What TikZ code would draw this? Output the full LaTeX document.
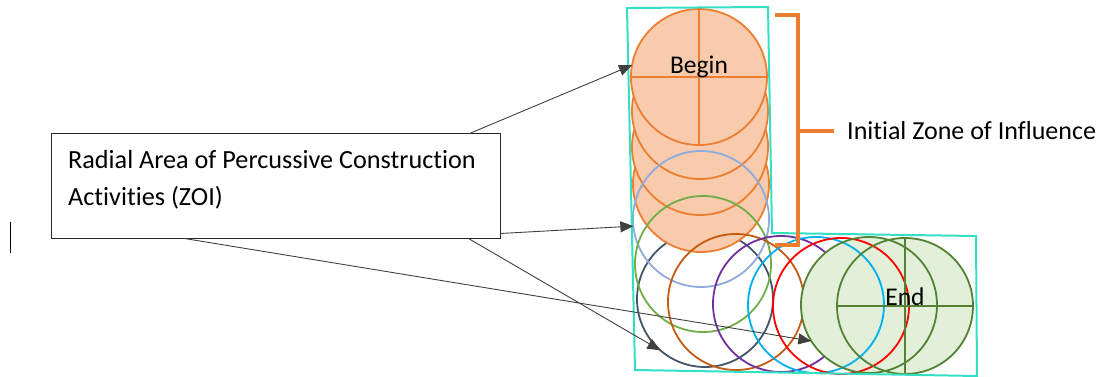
\documentclass[tikz,border=0pt]{standalone}
\usepackage{fontspec}
\setmainfont[Ligatures=NoCommon]{Carlito}
\usetikzlibrary{arrows.meta}
\definecolor{corange}{HTML}{ED7D31}
\definecolor{forange}{HTML}{F8CBAD}
\definecolor{cblue}{HTML}{8FAADC}
\definecolor{cgreen}{HTML}{70AD47}
\definecolor{cdark}{HTML}{44546A}
\definecolor{cbrown}{HTML}{C55A11}
\definecolor{cpurple}{HTML}{7030A0}
\definecolor{ccyan}{HTML}{00B0F0}
\definecolor{cred}{HTML}{FF0000}
\definecolor{cdgreen}{HTML}{548235}
\definecolor{fgreen}{HTML}{E2F0D9}
\definecolor{cteal}{HTML}{33E0C4}
\definecolor{carrow}{HTML}{404040}
\begin{document}
\begin{tikzpicture}[x=1pt,y=-1pt,
  zone/.style={circle, minimum size=136pt, inner sep=0pt, outer sep=0pt, line width=1.8pt},
  conn/.style={carrow, line width=0.9pt, -{Triangle[length=13pt,width=11pt]}},
  lbl/.style={font=\fontsize{25.5}{30}\selectfont, inner sep=0pt}]
\useasboundingbox (0,0) rectangle (1101,377);
% dark circle (under the orange ones)
\node[zone, draw=cdark] (dark) at (705,299) {};
% orange stack
\node[zone, draw=corange, fill=forange] (o4) at (701,184) {};
\node[zone, draw=corange, fill=forange] (o3) at (700,147) {};
\node[zone, draw=corange, fill=forange] (o2) at (700,111) {};
\node[zone, draw=corange, fill=forange] (o1) at (699,77) {};
\draw[corange, line width=1.8pt] (o1.west) -- (o1.east) (o1.north) -- (o1.south);
\node[lbl] (begin) at (699,67) {Begin};
% outlines
\node[zone, draw=cblue] (blue) at (701,219) {};
\node[zone, draw=cgreen] (green) at (703,264) {};
\node[zone, draw=cbrown] (brown) at (736,302) {};
\node[zone, draw=cpurple] (purple) at (781,304) {};
% green filled
\node[zone, fill=fgreen] (g1f) at (869,305) {};
\node[zone, fill=fgreen] (g2f) at (905,306) {};
\node[zone, draw=ccyan] (cyan) at (816,305) {};
\node[zone, draw=cred] (red) at (841,306) {};
\node[zone, draw=cdgreen] (g1) at (869,305) {};
\node[zone, draw=cdgreen] (g2) at (905,306) {};
\draw[cdgreen, line width=1.8pt] (g2.west) -- (g2.east) (g2.north) -- (g2.south);
\node[lbl] (end) at (905,297) {End};
% teal outline
\draw[cteal, line width=2pt] (627,8) -- (768,7) -- (772,233) -- (976,236) -- (977,376) -- (635,370) -- cycle;
% bracket
\draw[corange, line width=4pt] (775,15) -- (798,15) -- (798,245) -- (775,245);
\coordinate (brmid) at (798,131);
\coordinate (brtip) at (834,131);
\draw[corange, line width=4pt] (brmid) -- (brtip);
\node[lbl, font=\fontsize{26}{30}\selectfont, anchor=west] (izi) at (847,131) {Initial Zone of Influence};
% box
\node[draw=black!85, line width=1pt, fill=white, minimum width=449pt, minimum height=104pt, inner sep=0pt] (box) at (275.5,186) {};
\node[anchor=north west, inner sep=0pt, align=left, font=\fontsize{26.2}{37}\selectfont] (boxtext) at (68,150) {Radial Area of Percussive Construction\\Activities (ZOI)};
% connectors
\draw[conn] ([xshift=-31pt]box.north east) -- (o1.170);
\draw[conn] ([yshift=5pt]box.south east) -- (blue.186);
\draw[conn] ([xshift=134pt]box.south west) -- (g1.212);
\draw[conn] ([xshift=-32pt]box.south east) -- (dark.229);
% stray cursor mark
\draw[black, line width=1pt] (10,222) -- (10,253);
\end{tikzpicture}
\end{document}
